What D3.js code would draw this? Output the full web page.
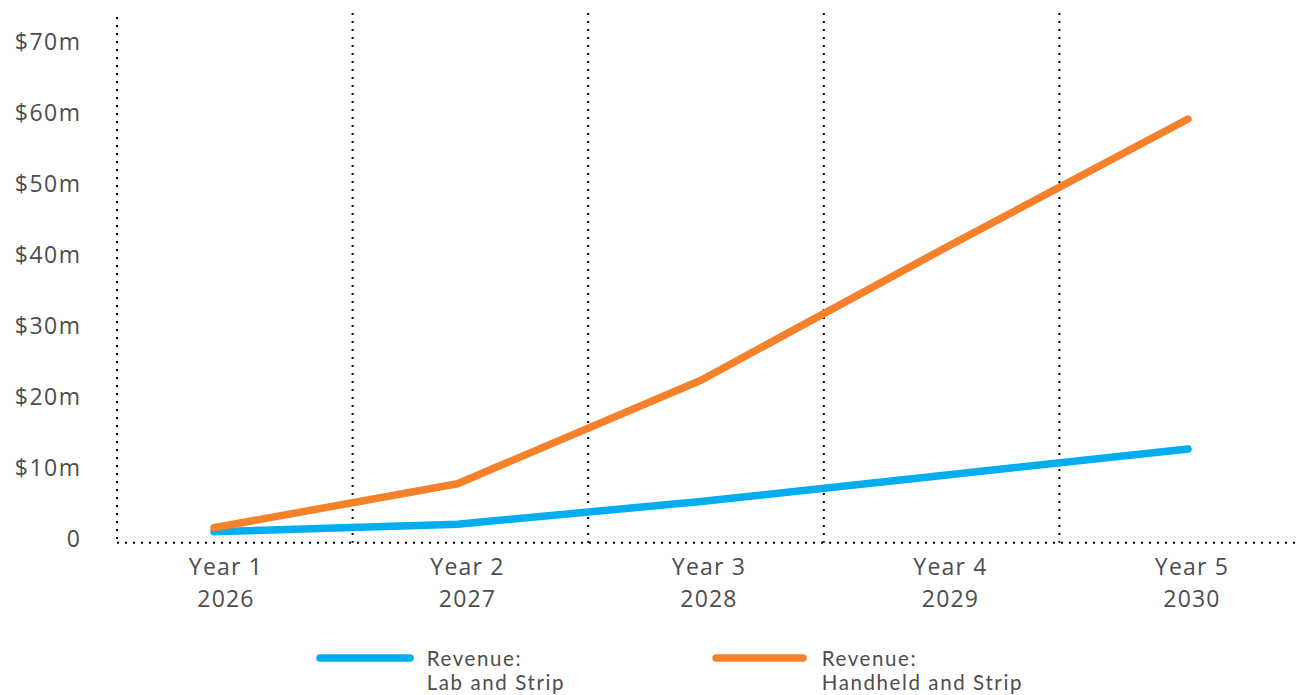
<!DOCTYPE html>
<html>
<head>
<meta charset="utf-8">
<script src="https://cdn.jsdelivr.net/npm/d3@7"></script>
<style>
  html, body { margin: 0; padding: 0; background: #ffffff; }
  svg { display: block; }
  text { font-family: "Open Sans", "Noto Sans", sans-serif; fill: #4d4d4d; }
  .legend-text { font-family: Lato, "Open Sans", sans-serif; }
</style>
</head>
<body>
<svg id="chart" width="1301" height="695"></svg>
<script>
// Categories (two-line labels: year index + calendar year)
const years = ["Year 1", "Year 2", "Year 3", "Year 4", "Year 5"];
const calendarYears = ["2026", "2027", "2028", "2029", "2030"];

// Revenue in $ millions
const labStrip = [0.85, 1.9, 5.1, 8.8, 12.5];
const handheldStrip = [1.4, 7.6, 22.2, 40.8, 59.0];

// Y-axis tick values and labels
const yTicks = [0, 10, 20, 30, 40, 50, 60, 70];
const yTickLabels = ["0", "$10m", "$20m", "$30m", "$40m", "$50m", "$60m", "$70m"];

// Legend entries
const seriesNames = [["Revenue:", "Lab and Strip"], ["Revenue:", "Handheld and Strip"]];
const seriesColors = ["#00aeef", "#f5822a"];

const svg = d3.select("#chart");

// Scales
const y = d3.scaleLinear().domain([0, 70]).range([537.7, 41]);
const xBand = d3.scaleBand().domain(years).range([117, 1295]);
const xLine = d3.scalePoint().domain(years).range([214, 1188]);
const xLabel = d3.scalePoint().domain(years).range([226, 1192]);

const dotted = "2 6";
const baselineY = 542.7;

// Vertical dotted separators between categories
svg.append("g")
  .selectAll("line")
  .data(years)
  .join("line")
  .attr("x1", d => xBand(d))
  .attr("x2", d => xBand(d))
  .attr("y1", (d, i) => i === 0 ? 17 : 13)
  .attr("y2", baselineY)
  .attr("stroke", "#000")
  .attr("stroke-width", 2)
  .attr("stroke-dasharray", dotted);

// Dotted baseline
svg.append("line")
  .attr("x1", xBand.range()[0])
  .attr("x2", 1297)
  .attr("y1", baselineY)
  .attr("y2", baselineY)
  .attr("stroke", "#000")
  .attr("stroke-width", 2)
  .attr("stroke-dasharray", dotted);

// Y-axis labels
svg.append("g")
  .selectAll("text")
  .data(yTicks)
  .join("text")
  .attr("x", 81.5)
  .attr("y", d => y(d))
  .attr("text-anchor", "end")
  .attr("dominant-baseline", "central")
  .attr("font-size", 23)
  .attr("letter-spacing", 1.5)
  .text((d, i) => yTickLabels[i]);

// X-axis labels (two lines)
const xl = svg.append("g")
  .selectAll("text")
  .data(years)
  .join("text")
  .attr("text-anchor", "middle")
  .attr("font-size", 23)
  .attr("letter-spacing", 1.2);
xl.append("tspan").attr("x", d => xLabel(d)).attr("y", 575).text(d => d);
xl.append("tspan").attr("x", d => xLabel(d)).attr("y", 607).text((d, i) => calendarYears[i]);

// Series lines
const line = d3.line()
  .x((d, i) => xLine(years[i]))
  .y(d => y(d));

[labStrip, handheldStrip].forEach((vals, k) => {
  svg.append("path")
    .datum(vals)
    .attr("d", line)
    .attr("fill", "none")
    .attr("stroke", seriesColors[k])
    .attr("stroke-width", 7.5)
    .attr("stroke-linecap", "round")
    .attr("stroke-linejoin", "round");
});

// Legend
const legendX = [[320, 410, 426.7], [716, 803, 821.7]];
const lg = svg.append("g")
  .selectAll("g")
  .data(seriesNames)
  .join("g");
lg.append("line")
  .attr("x1", (d, i) => legendX[i][0])
  .attr("x2", (d, i) => legendX[i][1])
  .attr("y1", 658)
  .attr("y2", 658)
  .attr("stroke", (d, i) => seriesColors[i])
  .attr("stroke-width", 7.5)
  .attr("stroke-linecap", "round");
lg.append("text")
  .attr("class", "legend-text")
  .attr("x", (d, i) => legendX[i][2])
  .attr("y", 665.5)
  .attr("font-size", 20.5)
  .attr("letter-spacing", 1.6)
  .text(d => d[0]);
lg.append("text")
  .attr("class", "legend-text")
  .attr("x", (d, i) => legendX[i][2])
  .attr("y", 690.2)
  .attr("font-size", 20.5)
  .attr("letter-spacing", 1.6)
  .text(d => d[1]);
</script>
</body>
</html>
